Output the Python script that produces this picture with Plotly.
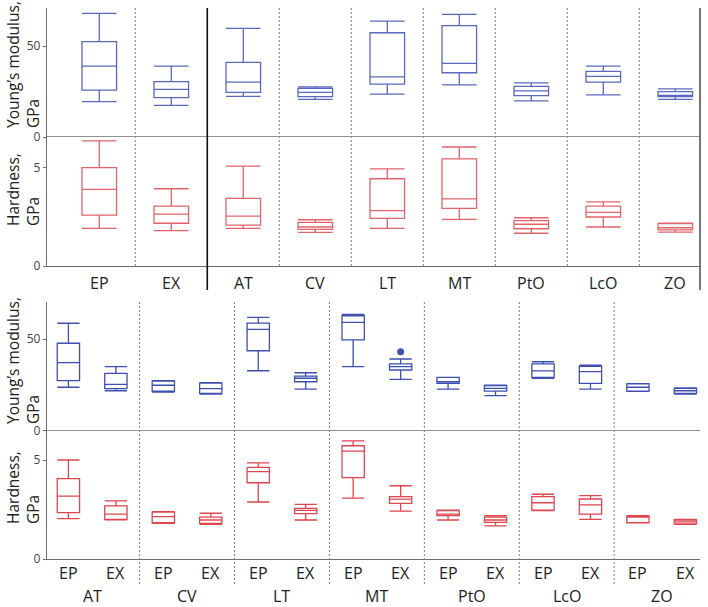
import plotly.graph_objects as go

W, H = 708, 607

# ---------------- data ----------------
top_categories = ["EP", "EX", "AT", "CV", "LT", "MT", "PtO", "LcO", "ZO"]
top_young_low = [19.4, 17.4, 22.3, 20.7, 23.6, 28.7, 19.9, 23.1, 20.7]
top_young_q1 = [25.8, 21.6, 24.5, 22.2, 29.1, 35.3, 22.7, 30.2, 22.2]
top_young_med = [39.0, 26.2, 30.2, 24.5, 33.1, 40.5, 25.4, 33.3, 22.9]
top_young_q3 = [52.4, 30.4, 41.0, 26.7, 57.3, 61.2, 27.8, 36.1, 24.9]
top_young_high = [68.0, 39.0, 59.7, 27.6, 63.7, 67.4, 29.7, 39.0, 26.5]

top_hard_low = [1.92, 1.80, 1.92, 1.72, 1.92, 2.38, 1.67, 1.99, 1.73]
top_hard_q1 = [2.59, 2.18, 2.08, 1.87, 2.43, 2.94, 1.90, 2.50, 1.84]
top_hard_med = [3.91, 2.65, 2.54, 1.99, 2.82, 3.42, 2.13, 2.74, 1.95]
top_hard_q3 = [5.02, 3.05, 3.45, 2.23, 4.45, 5.46, 2.31, 3.05, 2.16]
top_hard_high = [6.38, 3.94, 5.09, 2.36, 4.95, 6.07, 2.46, 3.27, 2.18]

bottom_groups = ["AT", "CV", "LT", "MT", "PtO", "LcO", "ZO"]
bottom_methods = ["EP", "EX"]
# order: AT-EP, AT-EX, CV-EP, CV-EX, ...
bot_young_low = [23.7, 21.8, 21.0, 20.0, 32.7, 22.7, 34.9, 28.0, 22.7, 19.1, 28.6, 22.7, 21.5, 20.0]
bot_young_q1 = [27.3, 22.9, 21.6, 20.4, 43.6, 26.7, 49.5, 33.1, 25.8, 21.6, 29.1, 25.8, 21.6, 20.4]
bot_young_med = [37.1, 25.3, 24.8, 22.9, 55.3, 28.6, 59.1, 34.9, 26.7, 23.1, 32.6, 32.2, 23.7, 21.8]
bot_young_q3 = [47.7, 31.3, 27.0, 26.0, 58.7, 29.8, 62.7, 36.4, 29.1, 24.6, 36.4, 35.1, 25.5, 23.1]
bot_young_high = [58.6, 34.9, 27.3, 26.2, 61.8, 31.6, 63.5, 39.1, 29.1, 24.9, 37.6, 35.7, 25.6, 23.4]
bot_young_outlier_index = [7]
bot_young_outlier_value = [43.1]

bot_hard_low = [2.04, 1.98, 1.80, 1.75, 2.88, 1.97, 3.07, 2.42, 1.97, 1.67, 2.45, 2.00, 1.83, 1.75]
bot_hard_q1 = [2.34, 2.00, 1.83, 1.80, 3.85, 2.29, 4.11, 2.81, 2.19, 1.85, 2.47, 2.27, 1.83, 1.77]
bot_hard_med = [3.18, 2.27, 2.14, 1.97, 4.41, 2.46, 5.45, 3.02, 2.27, 1.97, 2.84, 2.73, 2.15, 1.88]
bot_hard_q3 = [4.06, 2.68, 2.37, 2.11, 4.63, 2.56, 5.72, 3.15, 2.45, 2.11, 3.15, 3.03, 2.17, 1.97]
bot_hard_high = [5.00, 2.94, 2.39, 2.31, 4.86, 2.76, 5.97, 3.70, 2.47, 2.19, 3.27, 3.20, 2.19, 2.00]

young_ticks = [0, 50]
hard_ticks = [0, 5]

# ---------------- styles ----------------
FONT = "Open Sans"
BLUE_T, RED_T = "#5a69bf", "#e2646a"
BLUE_B, RED_B = "#3e4fb2", "#e0464e"
AXC = "#6e6e6e"


def py(px):
    return 1 - px / H


def pxx(px):
    return px / W


X0, X1 = pxx(47), pxx(700)

fig = go.Figure()


def add_box(xs, lo, q1, med, q3, hi, xa, ya, color, width):
    fig.add_trace(go.Box(
        x=xs, q1=q1, median=med, q3=q3, lowerfence=lo, upperfence=hi,
        xaxis=xa, yaxis=ya, width=width, whiskerwidth=1,
        line=dict(color=color, width=1.3), fillcolor="rgba(0,0,0,0)",
        boxpoints=False, showlegend=False, hoverinfo="skip"))


top_x = list(range(len(top_categories)))
bot_x = list(range(len(bottom_groups) * len(bottom_methods)))

add_box(top_x, top_young_low, top_young_q1, top_young_med, top_young_q3, top_young_high, "x", "y", BLUE_T, 0.48)
add_box(top_x, top_hard_low, top_hard_q1, top_hard_med, top_hard_q3, top_hard_high, "x", "y2", RED_T, 0.48)
add_box(bot_x, bot_young_low, bot_young_q1, bot_young_med, bot_young_q3, bot_young_high, "x2", "y3", BLUE_B, 0.47)
add_box(bot_x, bot_hard_low, bot_hard_q1, bot_hard_med, bot_hard_q3, bot_hard_high, "x2", "y4", RED_B, 0.47)

fig.add_trace(go.Scatter(x=bot_young_outlier_index, y=bot_young_outlier_value, xaxis="x2", yaxis="y3",
                         mode="markers", marker=dict(color=BLUE_B, size=7, symbol="circle"),
                         showlegend=False, hoverinfo="skip"))

yax = dict(showline=True, linecolor=AXC, linewidth=1.3, ticks="outside", ticklen=3, tickcolor=AXC,
           showgrid=False, zeroline=False, automargin=False,
           tickfont=dict(family=FONT, size=12, color="#444"))
xax = dict(showline=True, linecolor=AXC, linewidth=1.3, showgrid=False, zeroline=False, automargin=False,
           showticklabels=False, ticks="", domain=[X0, X1])

fig.update_layout(
    width=W, height=H, margin=dict(l=0, r=0, t=0, b=0, pad=0, autoexpand=False),
    paper_bgcolor="white", plot_bgcolor="white",
    font=dict(family=FONT, color="#222"),
    xaxis=dict(xax, range=[-0.726, 8.343], anchor="y2"),
    xaxis2=dict(xax, range=[-0.451, 13.308], anchor="y4"),
    yaxis=dict(yax, domain=[py(137), py(8)], range=[0, 70.9], tickvals=young_ticks, anchor="x"),
    yaxis2=dict(yax, domain=[py(266), py(137)], range=[0, 6.58], tickvals=hard_ticks, anchor="x"),
    yaxis3=dict(yax, domain=[py(430.7), py(302)], range=[0, 70.2], tickvals=young_ticks, anchor="x2"),
    yaxis4=dict(yax, domain=[py(559), py(430.7)], range=[0, 6.48], tickvals=hard_ticks, anchor="x2"),
)

shapes = []
# zero lines of Young's modulus panels
shapes.append(dict(type="line", xref="paper", yref="y", x0=X0, x1=X1, y0=0, y1=0,
                   line=dict(color=AXC, width=1.3)))
shapes.append(dict(type="line", xref="paper", yref="y3", x0=X0, x1=X1, y0=0, y1=0,
                   line=dict(color=AXC, width=1.3)))
# top separators
for i in range(1, len(top_categories)):
    b = i - 0.5
    if i == 2:
        shapes.append(dict(type="line", xref="x", yref="paper", x0=b, x1=b, y0=py(290), y1=py(8),
                           line=dict(color="#111", width=1.6)))
    else:
        shapes.append(dict(type="line", xref="x", yref="paper", x0=b, x1=b, y0=py(266), y1=py(8),
                           line=dict(color="#808080", width=1, dash="2px,2px")))
# right border top panel
shapes.append(dict(type="line", xref="paper", yref="paper", x0=X1, x1=X1, y0=py(290), y1=py(8),
                   line=dict(color="#555", width=1.6)))
# bottom separators
for k in range(1, len(bottom_groups)):
    b = 2 * k - 0.5
    shapes.append(dict(type="line", xref="x2", yref="paper", x0=b, x1=b, y0=py(584), y1=py(302),
                       line=dict(color="#808080", width=1, dash="2px,2px")))
fig.update_layout(shapes=shapes)

ann = []
lab = dict(showarrow=False, xanchor="center", yanchor="middle")
for i, c in enumerate(top_categories):
    ann.append(dict(lab, x=i, y=py(283), xref="x", yref="paper", text=c,
                    font=dict(family=FONT, size=16, color="#222")))
for g, grp in enumerate(bottom_groups):
    for m, meth in enumerate(bottom_methods):
        ann.append(dict(lab, x=2 * g + m, y=py(573), xref="x2", yref="paper", text=meth,
                        font=dict(family=FONT, size=16, color="#222")))
    ann.append(dict(lab, x=2 * g + 0.5, y=py(596), xref="x2", yref="paper", text=grp,
                    font=dict(family=FONT, size=16, color="#222")))

titles = [("Young’s modulus,<br>GPa", 65), ("Hardness,<br>GPa", 190),
          ("Young’s modulus,<br>GPa", 361), ("Hardness,<br>GPa", 488)]
for t, yc in titles:
    ann.append(dict(lab, x=pxx(23), y=py(yc), xref="paper", yref="paper", text=t, align="left",
                    textangle=-90, font=dict(family=FONT, size=15.5, color="#222")))
fig.update_layout(annotations=ann)

fig.write_html("out.html", config={"displayModeBar": False},
               post_script="document.body.style.margin='0px';document.body.style.overflow='hidden';")
